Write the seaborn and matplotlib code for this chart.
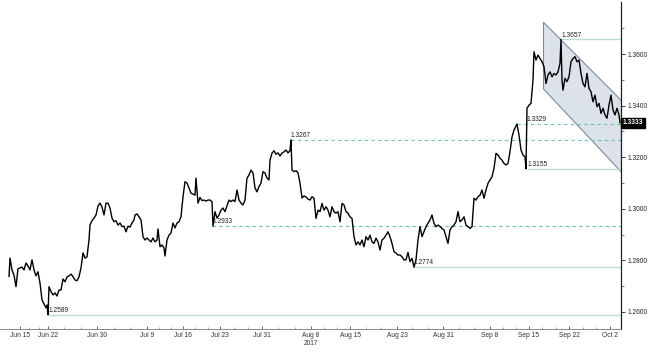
import numpy as np
import matplotlib
matplotlib.use("Agg")
import matplotlib.pyplot as plt
import matplotlib.transforms as mtransforms
import seaborn as sns

# bar index (trading time) and GBP/USD close
t = [9, 10, 12, 14, 16, 18, 20, 22, 24, 26, 28, 30, 32, 34, 36, 38, 40, 42, 44, 46,
     47, 48, 49, 51, 53, 55, 57, 59, 61, 63, 65, 67, 69, 71, 73, 75, 77, 79, 81, 83,
     85, 87, 89, 90, 92, 94, 96, 98, 100, 102, 104, 106, 108,
     110, 112, 114, 116, 118, 120, 122, 124, 126, 128, 130, 132, 134, 135, 137, 139,
     141, 143, 145, 147, 149, 151, 153, 155, 157, 158, 160, 162, 164, 165, 167, 169,
     171, 173, 175, 177, 179, 181, 183, 185, 187, 189, 191, 193, 195, 196, 198, 200,
     202, 204, 206, 208,
     210, 212, 213, 215, 217, 219, 221, 223, 225, 227, 229, 231, 233, 235, 237, 239,
     241, 243, 245, 247, 249, 251, 253, 255, 257, 259, 261, 263, 265, 267, 269, 270,
     272, 274, 276, 278, 280, 282, 284, 286, 288, 290, 291, 292, 294, 296, 298, 300,
     302, 304, 306, 308,
     310, 312, 314, 316, 318, 320, 322, 324, 326, 328, 330, 332, 334, 336, 338, 340,
     342, 344, 346, 348, 350, 352, 354, 356, 358, 360, 362, 364, 366, 368, 370, 372,
     374, 376, 378, 380, 382, 384, 386, 388, 390, 392, 394, 396, 398, 400, 402, 404,
     406, 408,
     410, 412, 414, 416, 418, 420, 422, 424, 426, 428, 430, 432, 434, 436, 438, 440,
     442, 444, 446, 448, 450, 452, 454, 456, 458, 460, 462, 464, 466, 468, 470, 472,
     474, 476, 478, 480, 482, 484, 486, 488, 490, 492, 494, 496, 498, 500, 502, 504,
     506, 508, 510, 512, 514, 517, 519, 521, 523, 525, 526,
     527, 529, 531, 533, 534, 536, 538, 540, 542, 544, 546, 548, 550, 552, 554, 556,
     558, 560, 561, 562, 563, 565, 567, 569, 571, 573, 575, 577, 579, 581, 583, 585,
     587, 589, 591, 593, 595, 597, 599, 601, 603, 605, 607, 609, 611, 613, 615, 617,
     619, 620]

price = [1.2737, 1.2809, 1.2763, 1.2743, 1.2698, 1.2767, 1.2771, 1.2774, 1.2763, 1.2790,
         1.2778, 1.2763, 1.2802, 1.2763, 1.2740, 1.2756, 1.2712, 1.2647, 1.2631, 1.2616,
         1.2627, 1.2589, 1.2698, 1.2679, 1.2666, 1.2674, 1.2662, 1.2685, 1.2685, 1.2728,
         1.2717, 1.2736, 1.2740, 1.2747, 1.2737, 1.2724, 1.2721, 1.2736, 1.2771, 1.2829,
         1.2809, 1.2814, 1.2879, 1.2937, 1.2954, 1.2964, 1.2976, 1.3011, 1.3022, 1.3007,
         1.2976, 1.3022, 1.3022,
         1.3003, 1.2964, 1.2950, 1.2954, 1.2937, 1.2945, 1.2931, 1.2933, 1.2911, 1.2933,
         1.2929, 1.2945, 1.2957, 1.2976, 1.2980, 1.2969, 1.2957, 1.2892, 1.2879, 1.2887,
         1.2879, 1.2872, 1.2887, 1.2872, 1.2879, 1.2922, 1.2853, 1.2860, 1.2848, 1.2817,
         1.2879, 1.2898, 1.2906, 1.2945, 1.2926, 1.2945, 1.2950, 1.2969, 1.3047, 1.3105,
         1.3100, 1.3081, 1.3061, 1.3057, 1.3053, 1.3119, 1.3022, 1.3044, 1.3032, 1.3034,
         1.3030, 1.3034,
         1.3034, 1.3028, 1.2933, 1.2989, 1.2964, 1.2976, 1.2995, 1.3003, 1.2989, 1.3011,
         1.3034, 1.3028, 1.3034, 1.3028, 1.3073, 1.3034, 1.3022, 1.3015, 1.3034, 1.3119,
         1.3131, 1.3150, 1.3139, 1.3081, 1.3066, 1.3086, 1.3100, 1.3144, 1.3139, 1.3119,
         1.3112, 1.3189, 1.3216, 1.3225, 1.3212, 1.3217, 1.3205, 1.3216, 1.3221, 1.3228,
         1.3217, 1.3225, 1.3267, 1.3150, 1.3144, 1.3148, 1.3139, 1.3100, 1.3042, 1.3050,
         1.3046, 1.3038,
         1.3034, 1.3047, 1.3041, 1.2963, 1.2995, 1.2989, 1.3021, 1.2995, 1.3008, 1.2995,
         1.2969, 1.3008, 1.2989, 1.2983, 1.2989, 1.2950, 1.3021, 1.3015, 1.2989, 1.2983,
         1.2969, 1.2963, 1.2892, 1.2860, 1.2872, 1.2860, 1.2879, 1.2853, 1.2892, 1.2879,
         1.2898, 1.2872, 1.2866, 1.2886, 1.2872, 1.2840, 1.2879, 1.2886, 1.2898, 1.2911,
         1.2892, 1.2866, 1.2834, 1.2828, 1.2821, 1.2821, 1.2814, 1.2802, 1.2802, 1.2831,
         1.2795, 1.2808, 1.2774, 1.2802, 1.2879, 1.2931, 1.2892, 1.2911, 1.2931, 1.2944,
         1.2957, 1.2976, 1.2944, 1.2931, 1.2937, 1.2931, 1.2924, 1.2918, 1.2892, 1.2866,
         1.2918, 1.2931, 1.2937, 1.2950, 1.2989, 1.2950, 1.2957, 1.2969, 1.2937, 1.2931,
         1.2924, 1.2931, 1.3041, 1.3034, 1.3047, 1.3053, 1.3073, 1.3041, 1.3073, 1.3099,
         1.3112, 1.3124, 1.3157, 1.3215, 1.3209, 1.3196, 1.3189, 1.3176, 1.3170, 1.3176,
         1.3221, 1.3279, 1.3305, 1.3329, 1.3286, 1.3228, 1.3209, 1.3201, 1.3155,
         1.3390, 1.3402, 1.3409, 1.3499, 1.3609, 1.3577, 1.3596, 1.3583, 1.3570, 1.3551,
         1.3486, 1.3519, 1.3531, 1.3512, 1.3525, 1.3519, 1.3531, 1.3564, 1.3657, 1.3499,
         1.3460, 1.3506, 1.3493, 1.3512, 1.3570, 1.3583, 1.3590, 1.3570, 1.3577, 1.3525,
         1.3486, 1.3473, 1.3525, 1.3467, 1.3454, 1.3415, 1.3441, 1.3396, 1.3409, 1.3370,
         1.3390, 1.3364, 1.3351, 1.3402, 1.3441, 1.3383, 1.3364, 1.3390, 1.3364, 1.3333]

# date labels on the time axis
tick_pos = [20, 48, 97, 147, 183, 220, 262, 311, 350, 397, 443, 490, 529, 569, 610]
tick_lab = ["Jun 15", "Jun 22", "Jun 30", "Jul 9", "Jul 16", "Jul 23", "Jul 31", "Aug 8",
            "Aug 15", "Aug 23", "Aug 31", "Sep 8", "Sep 15", "Sep 22", "Oct 2"]

# support / resistance levels: value, start bar, dashed?
level_val = [1.2589, 1.2774, 1.2933, 1.3267, 1.3329, 1.3155, 1.3657]
level_start = [48, 413, 212, 291, 517, 527, 561]
level_dashed = [False, False, True, True, True, False, False]
level_label_at = [49, 414, 213, 291, 527, 528, 562]

# falling channel
chan_t = [543, 621]
chan_upper = [1.3725, 1.3422]
chan_lower = [1.3467, 1.3144]

last_price = 1.3333

sns.set_style("white")
plt.rcParams["font.family"] = ["Liberation Sans", "DejaVu Sans"]

fig = plt.figure(figsize=(6.58, 3.52), dpi=100)
ax = fig.add_axes([0, 23 / 352, 621 / 658, 327 / 352])

ax.fill_between(chan_t, chan_lower, chan_upper, facecolor="#dbe2ea",
                edgecolor="#7b8c9c", lw=0.8, zorder=1)

for v, s, d in zip(level_val, level_start, level_dashed):
    if d:
        ax.hlines(v, s, 621, colors="#6cc3ad", lw=0.8, linestyles=(0, (3, 3)), zorder=2)
    else:
        ax.hlines(v, s, 621, colors="#b9dccf", lw=1.0, zorder=2)

sns.lineplot(x=t, y=price, ax=ax, color="black", lw=1.0, zorder=3)

for v, lx in zip(level_val, level_label_at):
    ax.text(lx, v + 0.0003, f"{v:.4f}", fontsize=4.8, color="#222222",
            ha="left", va="bottom", zorder=4)

ax.set_xlim(0, 621)
ax.set_ylim(1.2534, 1.3802)

ax.yaxis.tick_right()
ax.set_yticks(np.arange(1.26, 1.3601, 0.02))
ax.set_yticks(np.arange(1.27, 1.3801, 0.02), minor=True)
ax.yaxis.set_major_formatter(matplotlib.ticker.FormatStrFormatter("%.4f"))
ax.tick_params(axis="y", which="major", direction="out", length=3, width=0.6,
               labelsize=4.8, pad=1.5, colors="#222222", right=True, left=False)
ax.tick_params(axis="y", which="minor", direction="out", length=2, width=0.5,
               right=True, left=False, colors="#444444")

ax.set_xticks(tick_pos)
ax.set_xticklabels(tick_lab)
minor = []
for a, b in zip(tick_pos[:-1], tick_pos[1:]):
    minor += list(np.linspace(a, b, 4)[1:-1])
ax.set_xticks(minor, minor=True)
ax.tick_params(axis="x", which="major", direction="in", length=2.5, width=0.5,
               labelsize=4.8, pad=2, colors="#333333", bottom=True)
ax.tick_params(axis="x", which="minor", direction="in", length=1.5, width=0.4,
               colors="#666666", bottom=True)
ax.text(311, -0.035, "2017", transform=mtransforms.blended_transform_factory(ax.transData, ax.transAxes),
        fontsize=4.8, color="#333333", ha="center", va="top")

ax.set_xlabel("")
ax.set_ylabel("")
for side in ["left", "top"]:
    ax.spines[side].set_visible(False)
ax.spines["right"].set_color("#222222")
ax.spines["right"].set_linewidth(0.9)
ax.spines["bottom"].set_color("#777777")
ax.spines["bottom"].set_linewidth(0.6)

trans = mtransforms.blended_transform_factory(ax.transAxes, ax.transData)
ax.text(1.003, last_price, f"{last_price:.4f}", transform=trans, fontsize=4.8,
        color="white", ha="left", va="center", fontweight="bold",
        bbox=dict(boxstyle="square,pad=0.25", fc="black", ec="black"))

fig.savefig("out.png", dpi=100)
